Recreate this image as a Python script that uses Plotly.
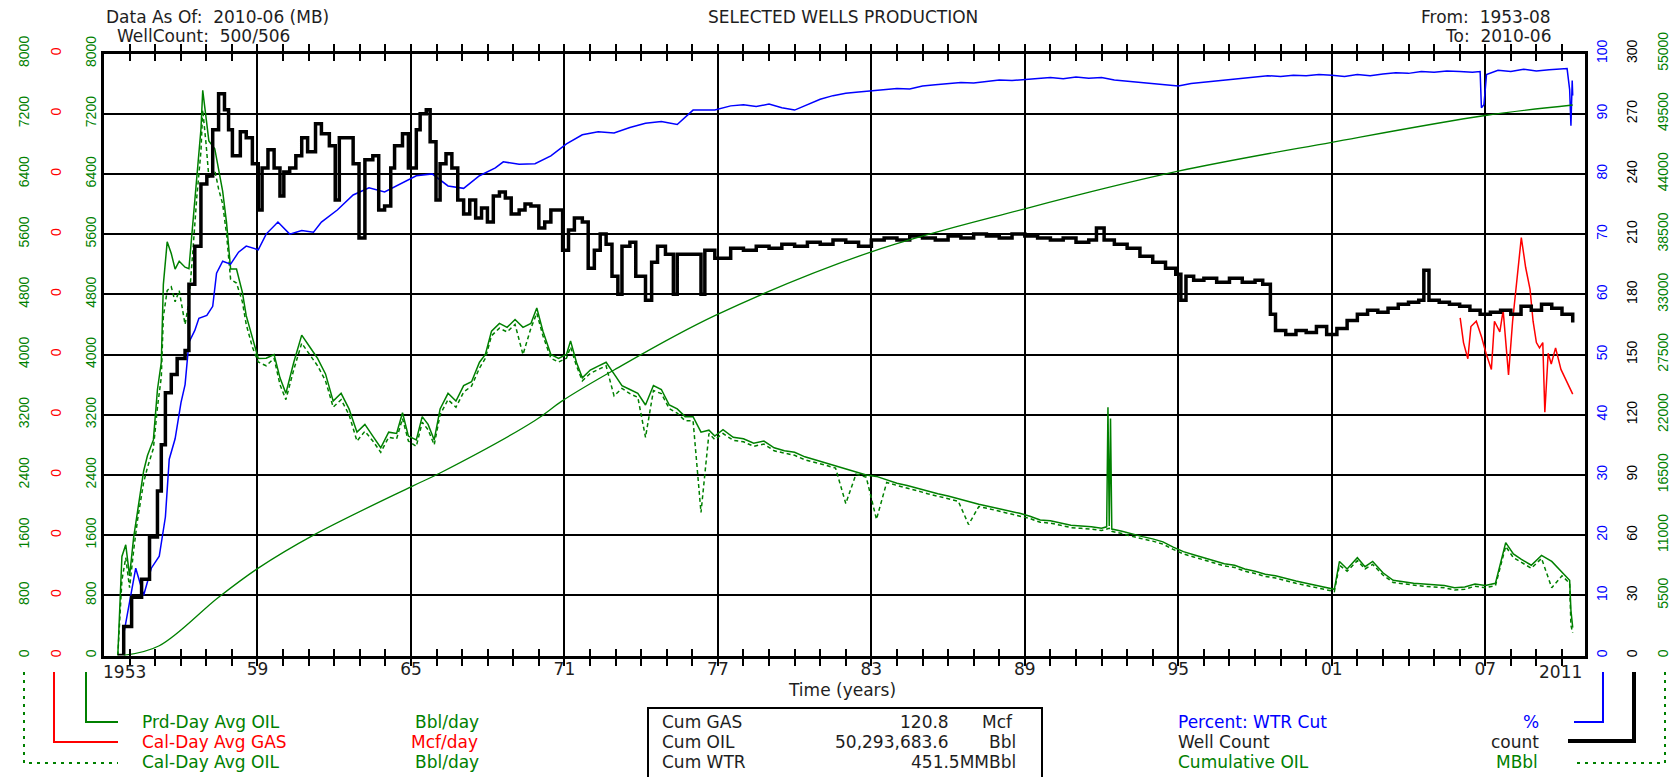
import plotly.graph_objects as go

W, H = 1680, 777
PAGE = 8  # the html body margin shifts the figure by this many pixels

# ---------------- data ----------------
# Well Count (right black axis, count)
count_years = [1953.54, 1953.77, 1954.08, 1954.47, 1954.78, 1955.09, 1955.24, 1955.40, 1955.63, 1955.86,
               1956.17, 1956.32, 1956.55, 1956.79, 1957.02, 1957.25, 1957.48, 1957.71, 1957.87, 1958.02,
               1958.18, 1958.33, 1958.56, 1958.80, 1959.03, 1959.18, 1959.41, 1959.65, 1959.88, 1960.03,
               1960.26, 1960.50, 1960.73, 1960.96, 1961.27, 1961.50, 1961.81, 1962.04, 1962.20, 1962.51,
               1962.74, 1962.97, 1963.20, 1963.51, 1963.74, 1963.97, 1964.21, 1964.36, 1964.67, 1964.90,
               1965.21, 1965.36, 1965.60, 1965.75, 1965.98, 1966.14, 1966.37, 1966.60, 1966.83, 1967.06,
               1967.30, 1967.53, 1967.76, 1967.99, 1968.22, 1968.46, 1968.69, 1968.92, 1969.23, 1969.46,
               1969.69, 1970.00, 1970.23, 1970.47, 1970.77, 1970.93, 1971.16, 1971.39, 1971.70, 1971.93,
               1972.17, 1972.40, 1972.63, 1972.86, 1973.09, 1973.25, 1973.56, 1973.79, 1974.17, 1974.41,
               1974.64, 1974.95, 1975.26, 1975.41, 1975.87, 1976.34, 1976.49, 1976.88,
               1977.5, 1978.0, 1978.5, 1979.0, 1979.5, 1980.0, 1980.5, 1981.0, 1981.5, 1982.0,
               1982.5, 1983.0, 1983.5, 1984.0, 1984.5, 1985.0, 1985.5, 1986.0, 1986.5, 1987.0,
               1987.5, 1988.0, 1988.5, 1989.0, 1989.5, 1990.0, 1990.5, 1991.0, 1991.5, 1991.8,
               1992.1, 1992.5, 1993.0, 1993.5, 1994.0, 1994.5, 1994.9, 1995.1, 1995.3, 1995.6,
               1996.0, 1996.5, 1997.0, 1997.5, 1998.0, 1998.3, 1998.6, 1998.8, 1999.2, 1999.6,
               2000.0, 2000.4, 2000.8, 2001.2, 2001.6, 2002.0, 2002.4, 2002.8, 2003.2, 2003.6,
               2004.0, 2004.4, 2004.6, 2004.8, 2005.2, 2005.6, 2006.0, 2006.4, 2006.8, 2007.2,
               2007.6, 2008.0, 2008.4, 2008.8, 2009.2, 2009.6, 2010.0, 2010.42]
well_count = [0, 14.5, 29, 38, 59, 82, 105, 131, 140, 148,
              152, 185, 204, 235, 239, 262, 280, 272, 262, 249,
              249, 261, 258, 245, 222, 243, 252, 243, 229, 241,
              243, 249, 258, 251, 265, 260, 254, 227, 258, 258,
              245, 208, 247, 249, 222, 224, 243, 254, 260, 243,
              262, 270, 272, 256, 227, 245, 250, 243, 227, 220,
              227, 218, 223, 216, 229, 231, 228, 220, 222, 225,
              224, 213, 216, 222, 222, 202, 212, 218, 216, 193,
              202, 210, 205, 189, 180, 204, 206, 189, 177, 196,
              204, 200, 180, 200, 200, 180, 202, 198,
              203, 202, 204, 203, 205, 204, 206, 205, 207, 206,
              204, 207, 208, 207, 209, 208, 207, 209, 208, 210,
              209, 208, 210, 209, 208, 207, 208, 206, 207, 213,
              207, 205, 203, 199, 196, 193, 190, 177, 189, 187,
              188, 186, 188, 186, 187, 185, 170, 162, 160, 162,
              161, 164, 160, 163, 167, 170, 172, 171, 173, 175,
              176, 177, 192, 177, 176, 175, 174, 172, 170, 171,
              172, 170, 174, 172, 175, 173, 170, 166]

# Percent: WTR Cut (right blue axis, %)
wcut_years = [1953.77, 1954.24, 1954.55, 1954.85, 1955.16, 1955.40, 1955.55, 1955.78, 1956.01, 1956.17,
              1956.32, 1956.55, 1956.71, 1957.02, 1957.25, 1957.40, 1957.64, 1957.95, 1958.26, 1958.56,
              1959.03, 1959.34, 1959.80, 1960.26, 1960.73, 1961.19, 1961.50, 1962.12, 1962.74, 1963.36,
              1963.97, 1964.59, 1965.21, 1965.83, 1966.45, 1967.06, 1967.68, 1968.30, 1968.61, 1969.23,
              1969.85, 1970.47, 1971.08, 1971.70, 1972.32, 1972.94, 1973.56, 1974.17, 1974.79, 1975.41,
              1976.03, 1976.88,
              1977.5, 1978.0, 1978.5, 1979.0, 1979.5, 1980.0, 1980.5, 1981.0, 1981.5, 1982.0,
              1982.5, 1983.0, 1983.5, 1984.0, 1984.5, 1985.0, 1985.5, 1986.0, 1986.5, 1987.0,
              1987.5, 1988.0, 1988.5, 1989.0, 1989.5, 1990.0, 1990.5, 1991.0, 1991.5, 1992.0,
              1992.5, 1993.0, 1993.5, 1994.0, 1994.5, 1995.0, 1995.5, 1996.0, 1996.5, 1997.0,
              1997.5, 1998.0, 1998.5, 1999.0, 1999.5, 2000.0, 2000.5, 2001.0, 2001.5, 2002.0,
              2002.5, 2003.0, 2003.5, 2004.0, 2004.5, 2005.0, 2005.5, 2006.0, 2006.5, 2006.8,
              2006.85, 2006.95, 2007.05, 2007.5, 2008.0, 2008.5, 2009.0, 2009.5, 2010.0, 2010.2,
              2010.3, 2010.35, 2010.4, 2010.42]
wtr_cut = [3.5, 14.5, 10, 14.5, 16.5, 23, 32.6, 36, 42, 45,
           52, 54, 56, 56.5, 58, 63.5, 65.5, 65, 67, 68,
           67.4, 70, 72, 70, 70.6, 70.3, 72, 74, 76.5, 77.7,
           77, 78.4, 79.7, 80, 78, 77.6, 79.7, 81, 82, 81.6,
           81.7, 83, 85, 86.5, 87, 86.8, 87.7, 88.4, 88.7, 88.2,
           90.6, 90.6,
           91.3, 91.5, 91.2, 91.6, 91.0, 90.6, 91.5, 92.4, 93.0, 93.4,
           93.6, 93.8, 94.0, 94.2, 94.1, 94.6, 94.8, 95.0, 95.2, 95.1,
           95.4, 95.6, 95.5, 95.7, 95.9, 96.0, 95.8, 96.1, 95.9, 96.0,
           95.6, 95.4, 95.2, 95.0, 94.8, 94.6, 95.0, 95.2, 95.4, 95.6,
           95.9, 96.1, 96.3, 96.2, 96.4, 96.3, 96.5, 96.4, 96.2, 96.5,
           96.3, 96.6, 96.8, 96.7, 97.0, 96.9, 97.1, 97.0, 96.9, 97.0,
           91.0, 91.5, 96.5, 97.2, 97.0, 97.4, 97.1, 97.3, 97.4, 97.5,
           94.0, 88.0, 95.5, 93.0]

# Cumulative OIL (right green axis, MBbl)
cum_years = [1953.77, 1955.16, 1957.48, 1959.03, 1961.19, 1965.02, 1966.14, 1969.85, 1970.90, 1972.94,
             1976.88, 1983.0, 1989.0, 1995.0, 2001.0, 2007.0, 2010.42]
cum_oil = [0, 887, 5323, 7984, 11000, 15435, 16677, 21469, 23242, 26083,
           31048, 36884, 40812, 44246, 46888, 49335, 50294]

# Prd-Day Avg OIL / Cal-Day Avg OIL (left green axes, Bbl/day)
oil_years = [1953.54, 1953.70, 1953.85, 1954.00, 1954.16, 1954.31, 1954.55, 1954.70, 1954.93, 1955.09,
             1955.24, 1955.32, 1955.47, 1955.63, 1955.78, 1955.94, 1956.17, 1956.32, 1956.48, 1956.63,
             1956.79, 1956.86, 1956.99, 1957.10, 1957.33, 1957.48, 1957.64, 1957.79, 1957.95, 1958.18,
             1958.41, 1958.56, 1958.80, 1959.03, 1959.34, 1959.65, 1959.88, 1960.11, 1960.42, 1960.73,
             1961.04, 1961.35, 1961.66, 1961.96, 1962.27, 1962.58, 1962.89, 1963.20, 1963.51, 1963.82,
             1964.13, 1964.44, 1964.67, 1964.90, 1965.21, 1965.44, 1965.67, 1965.91, 1966.14, 1966.45,
             1966.76, 1967.06, 1967.37, 1967.68, 1967.91, 1968.15, 1968.46, 1968.76, 1969.07, 1969.38,
             1969.69, 1969.92, 1970.16, 1970.47, 1970.77, 1971.08, 1971.24, 1971.47, 1971.70, 1972.01,
             1972.32, 1972.63, 1972.94, 1973.25, 1973.56, 1973.87, 1974.17, 1974.48, 1974.79, 1975.10,
             1975.41, 1975.72, 1976.03, 1976.34, 1976.65, 1976.88,
             1977.2, 1977.6, 1978.0, 1978.4, 1978.8, 1979.2, 1979.6, 1980.0, 1980.4, 1980.8,
             1981.2, 1981.6, 1982.0, 1982.4, 1982.8, 1983.2, 1983.6, 1984.0, 1984.4, 1984.8,
             1985.2, 1985.6, 1986.0, 1986.4, 1986.8, 1987.2, 1987.6, 1988.0, 1988.4, 1988.8,
             1989.2, 1989.6, 1990.0, 1990.4, 1990.8, 1991.2, 1991.6, 1992.0, 1992.2, 1992.25,
             1992.3, 1992.35, 1992.4, 1992.8, 1993.2, 1993.6, 1994.0, 1994.4, 1994.8, 1995.2,
             1995.6, 1996.0, 1996.4, 1996.8, 1997.2, 1997.6, 1998.0, 1998.4, 1998.8, 1999.2,
             1999.6, 2000.0, 2000.4, 2000.8, 2001.1, 2001.3, 2001.6, 2002.0, 2002.3, 2002.6,
             2003.0, 2003.4, 2003.8, 2004.2, 2004.6, 2005.0, 2005.4, 2005.8, 2006.2, 2006.6,
             2007.0, 2007.4, 2007.8, 2008.1, 2008.4, 2008.8, 2009.2, 2009.6, 2010.0, 2010.3,
             2010.35, 2010.42]
prd_day_oil = [0, 1316, 1471, 1058, 1574, 1935, 2452, 2658, 2865, 3535,
               3897, 4929, 5497, 5342, 5135, 5239, 5160, 5140, 5806, 6426,
               6994, 7510, 7097, 6839, 6735, 6477, 6168, 5755, 5135, 5135,
               4826, 4516, 4206, 3948, 3950, 4000, 3690, 3484, 3897, 4258,
               4103, 3948, 3742, 3381, 3484, 3277, 2968, 3071, 2916, 2761,
               2968, 2950, 3226, 2916, 2865, 3174, 3071, 2865, 3277, 3484,
               3381, 3587, 3639, 3897, 4000, 4310, 4413, 4361, 4465, 4361,
               4413, 4619, 4310, 4000, 3948, 4000, 4181, 3897, 3690, 3794,
               3845, 3897, 3742, 3587, 3535, 3484, 3329, 3587, 3535, 3329,
               3277, 3174, 3174, 2968, 2994, 2916,
               3000, 2900, 2880, 2820, 2850, 2760, 2720, 2700, 2640, 2600,
               2560, 2520, 2480, 2440, 2400, 2380, 2330, 2290, 2260, 2220,
               2180, 2150, 2120, 2080, 2040, 2010, 1980, 1950, 1920, 1890,
               1850, 1800, 1790, 1760, 1730, 1720, 1710, 1690, 1710, 3300,
               1720, 3150, 1680, 1650, 1610, 1580, 1550, 1510, 1440, 1380,
               1340, 1300, 1260, 1220, 1200, 1150, 1120, 1080, 1060, 1020,
               990, 960, 930, 900, 880, 1250, 1150, 1300, 1180, 1250,
               1100, 1000, 980, 960, 950, 940, 930, 900, 910, 950,
               930, 960, 1500, 1350, 1280, 1200, 1330, 1250, 1100, 1000,
               600, 370]
cal_day_oil = [0, 1000, 1300, 900, 1400, 1800, 2300, 2500, 2750, 3300,
               3700, 4500, 4850, 4900, 4700, 4850, 4400, 4700, 5400, 6100,
               6700, 7250, 6800, 6350, 6450, 6200, 6000, 5600, 5000, 4950,
               4700, 4400, 4100, 3900, 3850, 3950, 3600, 3400, 3800, 4150,
               4000, 3850, 3650, 3300, 3400, 3200, 2850, 2980, 2850, 2700,
               2900, 2880, 3150, 2850, 2780, 3100, 3000, 2800, 3200, 3400,
               3300, 3500, 3580, 3820, 3950, 4250, 4350, 4300, 4400, 4000,
               4350, 4550, 4250, 3950, 3900, 3950, 4100, 3850, 3650, 3750,
               3800, 3850, 3450, 3550, 3480, 3430, 2900, 3520, 3480, 3280,
               3220, 3120, 3120, 1900, 2950, 2870,
               2950, 2860, 2840, 2780, 2810, 2720, 2690, 2660, 2600, 2570,
               2530, 2490, 2020, 2410, 2370, 1810, 2300, 2260, 2230, 2190,
               2150, 2120, 2090, 2050, 1740, 1980, 1950, 1920, 1890, 1860,
               1820, 1770, 1760, 1730, 1700, 1690, 1680, 1660, 1680, 1690,
               1690, 1680, 1650, 1620, 1580, 1550, 1520, 1480, 1410, 1350,
               1310, 1270, 1230, 1190, 1170, 1120, 1090, 1050, 1030, 990,
               960, 930, 900, 870, 850, 1200, 1120, 1260, 1150, 1210,
               1070, 970, 950, 930, 920, 910, 900, 870, 880, 920,
               900, 930, 1450, 1300, 1240, 1160, 1290, 900, 1060, 960,
               400, 300]

# Cal-Day Avg GAS (left red axis, Mcf/day)
gas_years = [2006.02, 2006.15, 2006.32, 2006.44, 2006.65, 2006.86, 2007.03, 2007.24, 2007.36, 2007.57,
             2007.70, 2007.91, 2008.07, 2008.24, 2008.41, 2008.58, 2008.75, 2008.87, 2009.00, 2009.12,
             2009.25, 2009.33, 2009.46, 2009.58, 2009.75, 2009.96, 2010.17, 2010.42]
cal_day_gas = [0.2243, 0.2079, 0.1972, 0.2186, 0.2221, 0.2115, 0.2008, 0.1901, 0.2221, 0.2150,
               0.2293, 0.1865, 0.2221, 0.2506, 0.2777, 0.2578, 0.2435, 0.2221, 0.2079, 0.2044,
               0.2079, 0.1616, 0.2008, 0.1937, 0.2044, 0.1901, 0.1830, 0.1737]

year_ticks = [1959, 1965, 1971, 1977, 1983, 1989, 1995, 2001, 2007]
year_labels = ["59", "65", "71", "77", "83", "89", "95", "01", "07"]

GREEN = "#008000"
RED = "#ff0000"
BLUE = "#0000ff"
BLACK = "#000000"
TXT = "#1e1e1e"
FONT = "DejaVu Sans"


def X(px):
    return (px - PAGE) / W


def Y(py):
    return 1 - (py - PAGE) / H


fig = go.Figure()
fig.add_trace(go.Scatter(x=oil_years, y=cal_day_oil, mode="lines", yaxis="y",
                         line=dict(color=GREEN, width=1.5, dash="4px,3px")))
fig.add_trace(go.Scatter(x=oil_years, y=prd_day_oil, mode="lines", yaxis="y3",
                         line=dict(color=GREEN, width=1.5)))
# the cumulative curve sits on the labelled x axis so that axis gets drawn
fig.add_trace(go.Scatter(x=cum_years, y=cum_oil, mode="lines", xaxis="x2", yaxis="y6",
                         line=dict(color=GREEN, width=1.3, shape="spline")))
fig.add_trace(go.Scatter(x=wcut_years, y=wtr_cut, mode="lines", yaxis="y4",
                         line=dict(color=BLUE, width=1.5)))
fig.add_trace(go.Scatter(x=gas_years, y=cal_day_gas, mode="lines", yaxis="y2",
                         line=dict(color=RED, width=1.5)))
fig.add_trace(go.Scatter(x=count_years, y=well_count, mode="lines", yaxis="y5",
                         line=dict(color=BLACK, width=3.5, shape="hv")))

xdom = [X(104), X(1585)]
ydom = [Y(655.5), Y(53.5)]
xrange_ = [1953.0, 2010.9]
tick_font = dict(family="Liberation Sans", size=14)


def yax(color, rng, dtick, **kw):
    d = dict(range=rng, dtick=dtick, tick0=0, tickangle=-90, showgrid=False, zeroline=False,
             tickfont=dict(tick_font, color=color), ticks="", fixedrange=True, automargin=False)
    d.update(kw)
    return d


fig.update_layout(
    width=W, height=H, margin=dict(l=0, r=0, t=0, b=0, pad=0, autoexpand=False),
    paper_bgcolor="white", plot_bgcolor="white", showlegend=False,
    # yearly ticks on bottom and top
    xaxis=dict(domain=xdom, range=xrange_, tickmode="linear", tick0=1953, dtick=1,
               showticklabels=False, showgrid=False, zeroline=False, automargin=False,
               showline=True, linecolor=BLACK, linewidth=3, mirror="allticks",
               ticks="inside", ticklen=7, tickwidth=2, tickcolor=BLACK),
    # labelled six-year gridlines
    xaxis2=dict(overlaying="x", anchor="y", side="bottom", range=xrange_, automargin=False,
                tickvals=year_ticks, ticktext=year_labels, showgrid=True, gridcolor=BLACK,
                gridwidth=2, zeroline=False, showline=False, ticks="", ticklabelstandoff=1,
                tickfont=dict(family=FONT, size=17, color=TXT)),
    yaxis=yax(GREEN, [0, 8000], 800, domain=ydom, showgrid=True, gridcolor=BLACK, gridwidth=2,
              showline=True, linecolor=BLACK, linewidth=3, mirror=True, ticklabelstandoff=-1),
    yaxis2=yax(RED, [0, 0.4], 0.04, overlaying="y", anchor="free", side="left",
               position=X(64), tickformat=".0f"),
    yaxis3=yax(GREEN, [0, 8000], 800, overlaying="y", anchor="free", side="left",
               position=X(32)),
    yaxis4=yax(BLUE, [0, 100], 10, overlaying="y", anchor="x", side="right", ticklabelstandoff=7),
    yaxis5=yax(BLACK, [0, 300], 30, overlaying="y", anchor="free", side="right",
               position=X(1622)),
    yaxis6=yax(GREEN, [0, 55000], 5500, overlaying="y", anchor="free", side="right",
               position=X(1653), tickformat="d"),
)

ann = []


def txt(s, x, y, color=TXT, anchor="left", size=17):
    ann.append(dict(text=s, x=X(x), y=Y(y), xref="paper", yref="paper", showarrow=False,
                    xanchor=anchor, yanchor="middle", font=dict(family=FONT, size=size, color=color)))


# header
txt("Data As Of:  2010-06 (MB)", 104, 17)
txt("WellCount:  500/506", 115, 36)
txt("SELECTED WELLS PRODUCTION", 843, 17, anchor="center")
txt("From:  1953-08", 1553, 17, anchor="right")
txt("To:  2010-06", 1553, 36, anchor="right")
# x-axis end labels and title
txt("1953", 101, 672)
txt("2011", 1584, 672, anchor="right")
txt("Time (years)", 842, 690, anchor="center")
# left legend
txt("Prd-Day Avg OIL", 140, 722, GREEN)
txt("Bbl/day", 413, 722, GREEN)
txt("Cal-Day Avg GAS", 140, 742, RED)
txt("Mcf/day", 409, 742, RED)
txt("Cal-Day Avg OIL", 140, 762, GREEN)
txt("Bbl/day", 413, 762, GREEN)
# totals box
txt("Cum GAS", 660, 722)
txt("120.8", 951, 722, anchor="right")
txt("Mcf", 980, 722)
txt("Cum OIL", 660, 742)
txt("50,293,683.6", 951, 742, anchor="right")
txt("Bbl", 987, 742)
txt("Cum WTR", 660, 762)
txt("451.5MMBbl", 1018, 762, anchor="right")
# right legend
txt("Percent: WTR Cut", 1176, 722, BLUE)
txt("%", 1541, 722, BLUE, anchor="right")
txt("Well Count", 1176, 742)
txt("count", 1541, 742, anchor="right")
txt("Cumulative OIL", 1176, 762, GREEN)
txt("MBbl", 1540, 762, GREEN, anchor="right")
fig.update_layout(annotations=ann)


def path(pts, color, width=2, dash="solid"):
    d = "M " + " L ".join(f"{X(a):.5f},{Y(b):.5f}" for a, b in pts)
    return dict(type="path", path=d, xref="paper", yref="paper",
                line=dict(color=color, width=width, dash=dash))


shapes = [
    path([(86, 672), (86, 722), (118, 722)], GREEN),
    path([(54, 672), (54, 742), (118, 742)], RED),
    path([(24, 672), (24, 763), (118, 763)], GREEN, dash="3px,5px"),
    path([(1603, 672), (1603, 722), (1574, 722)], BLUE),
    path([(1634, 672), (1634, 741), (1568, 741)], BLACK, width=4),
    path([(1665, 672), (1665, 763), (1574, 763)], GREEN, dash="3px,5px"),
    dict(type="rect", xref="paper", yref="paper", x0=X(648), x1=X(1042), y0=Y(800), y1=Y(708),
         line=dict(color=BLACK, width=2)),
]
fig.update_layout(shapes=shapes)

fig.write_html("out.html")
